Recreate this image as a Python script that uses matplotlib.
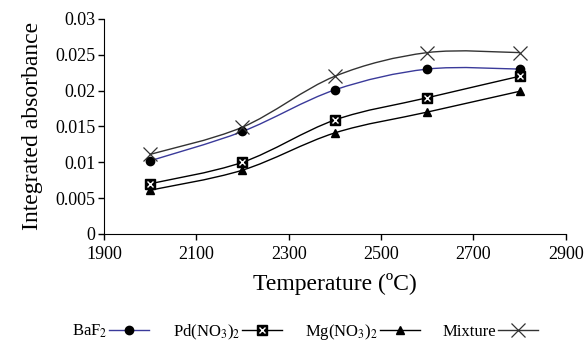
import matplotlib
matplotlib.use("Agg")
import matplotlib.pyplot as plt
from matplotlib.path import Path
from matplotlib.patches import PathPatch
from matplotlib.lines import Line2D

plt.rcParams['font.family'] = ['Liberation Serif', 'DejaVu Serif']
plt.rcParams['mathtext.fontset'] = 'stix'

# ---- data ----
temps = [2000, 2200, 2400, 2600, 2800]
baf2 = [0.0102, 0.0143, 0.0201, 0.0230, 0.0230]
pd_no3 = [0.0070, 0.0100, 0.0159, 0.0190, 0.0220]
mg_no3 = [0.0061, 0.0089, 0.0141, 0.0170, 0.0199]
mixture = [0.0111, 0.0149, 0.0220, 0.0253, 0.0253]

labels = ['BaF$_2$', 'Pd(NO$_3$)$_2$', 'Mg(NO$_3$)$_2$', 'Mixture']
xticks = [1900, 2100, 2300, 2500, 2700, 2900]
yticks = [0, 0.005, 0.01, 0.015, 0.02, 0.025, 0.03]
yticklabels = ['0', '0.005', '0.01', '0.015', '0.02', '0.025', '0.03']


def smooth_path(xs, ys):
    # Excel-like smoothed line: cubic bezier segments through the points
    pts = list(zip(xs, ys))
    verts = [pts[0]]
    codes = [Path.MOVETO]
    n = len(pts)
    for i in range(n - 1):
        p0 = pts[i - 1] if i > 0 else pts[i]
        p1 = pts[i]
        p2 = pts[i + 1]
        p3 = pts[i + 2] if i + 2 < n else pts[i + 1]
        c1 = (p1[0] + (p2[0] - p0[0]) / 6, p1[1] + (p2[1] - p0[1]) / 6)
        c2 = (p2[0] - (p3[0] - p1[0]) / 6, p2[1] - (p3[1] - p1[1]) / 6)
        verts += [c1, c2, p2]
        codes += [Path.CURVE4] * 3
    return Path(verts, codes)


fig = plt.figure(figsize=(5.87, 3.44), dpi=100)
ax = fig.add_axes([0.177, 0.32, 0.787, 0.625])

series = [
    (baf2, '#3a3a9a', dict(marker='o', ms=6, mfc='black', mec='black')),
    (pd_no3, 'black', dict(marker='s', ms=7, mfc='black', mec='black')),
    (mg_no3, 'black', dict(marker='^', ms=5.5, mfc='black', mec='black')),
    (mixture, '#333333', dict(marker='x', ms=10, mew=0.9, mec='#333333')),
]

handles = []
for ys, col, mk in series:
    ax.add_patch(PathPatch(smooth_path(temps, ys), fill=False,
                           edgecolor=col, lw=1.0, zorder=2))
    ax.plot(temps, ys, ls='none', zorder=3, **mk)
    handles.append(Line2D([], [], color=col, lw=1.0, **mk))

# white cross inside the Pd(NO3)2 squares
ax.plot(temps, pd_no3, ls='none', marker='x', ms=4, mec='white', mew=1.0, zorder=4)
pd_cross = Line2D([], [], ls='none', marker='x', ms=4, mec='white', mew=1.0)
handles[1] = (handles[1], pd_cross)

ax.set_xlim(1900, 2900)
ax.set_ylim(0, 0.03)
ax.set_xticks(xticks)
ax.set_yticks(yticks)
ax.set_yticklabels(yticklabels)
ax.tick_params(direction='out', labelsize=13, length=4, width=1)
ax.tick_params(axis='x', pad=5)
ax.tick_params(axis='y', pad=2)
ax.spines['top'].set_visible(False)
ax.spines['right'].set_visible(False)
ax.set_xlabel('Temperature (ºC)', fontsize=17, labelpad=7)
ax.set_ylabel('Integrated absorbance', fontsize=17, labelpad=9)

fig.legend(handles, labels, loc='center', bbox_to_anchor=(0.52, 0.035),
           ncol=4, frameon=False, markerfirst=False, fontsize=12,
           handlelength=2.4, columnspacing=1.4, handletextpad=0.1)

fig.savefig('out.png', dpi=100)
